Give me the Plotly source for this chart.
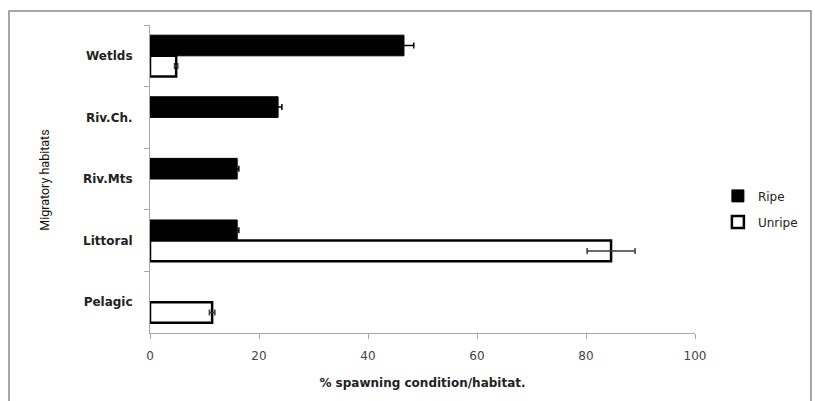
import plotly.graph_objects as go

habitats = ["Wetlds", "Riv.Ch.", "Riv.Mts", "Littoral", "Pelagic"]
ripe = [46.6, 23.5, 16.0, 16.0, 0.0]
ripe_err = [1.8, 0.7, 0.3, 0.3, 0.0]
unripe = [4.8, 0.0, 0.0, 84.6, 11.4]
unripe_err = [0.3, 0.0, 0.0, 4.4, 0.5]
x_ticks = [0, 20, 40, 60, 80, 100]

font_main = "'DejaVu Sans', sans-serif"


def shown(vals):
    return [v if v > 0 else None for v in vals]


def visible_err(vals, errs):
    return [e if v > 0 else None for v, e in zip(vals, errs)]


fig = go.Figure()
fig.add_trace(go.Bar(
    name="Ripe", y=habitats, x=shown(ripe), orientation="h", legendgroup="a",
    marker=dict(color="black", line=dict(color="black", width=1)),
    error_x=dict(type="data", array=visible_err(ripe, ripe_err), color="black",
                 thickness=1.5, width=3),
))
fig.add_trace(go.Bar(
    name="Unripe", y=habitats, x=shown(unripe), orientation="h", legendgroup="b",
    marker=dict(color="white", line=dict(color="black", width=2.5)),
    error_x=dict(type="data", array=visible_err(unripe, unripe_err), color="#3a3a3a",
                 thickness=1.5, width=3),
))

fig.update_layout(
    width=815, height=401,
    margin=dict(l=150, r=120, t=25, b=68, autoexpand=False),
    paper_bgcolor="white", plot_bgcolor="white",
    barmode="group", bargap=0.33, bargroupgap=0,
    font=dict(family=font_main, size=12, color="black"),
    showlegend=True,
    legend=dict(x=1.042, y=0.403, xanchor="left", yanchor="middle",
                font=dict(size=12, color="#222"), tracegroupgap=7,
                traceorder="grouped", itemwidth=30),
    xaxis=dict(range=[0, 100], tickvals=x_ticks, showgrid=False, zeroline=False,
               showline=True, linecolor="#a8a8a8", linewidth=1,
               ticks="outside", ticklen=5, tickcolor="#a8a8a8",
               ticklabelstandoff=7,
               tickfont=dict(size=12, color="#444"),
               title=dict(text="<b>% spawning condition/habitat.</b>",
                          font=dict(size=12, color="#222"), standoff=16)),
    yaxis=dict(autorange="reversed", showgrid=False, zeroline=False,
               showline=True, linecolor="#a8a8a8", linewidth=1,
               ticks="outside", ticklen=5, tickcolor="#a8a8a8",
               tickson="boundaries",
               tickfont=dict(size=12, color="#222", family=font_main),
               ticklabelstandoff=14),
    annotations=[dict(text="Migratory habitats", textangle=-90,
                      xref="paper", yref="paper", x=-0.193, y=0.497,
                      xanchor="center", yanchor="middle",
                      showarrow=False,
                      font=dict(family="'Liberation Sans Narrow', 'Roboto', sans-serif",
                                size=12.5, color="#111"))],
    shapes=[dict(type="rect", xref="paper", yref="paper",
                 x0=-0.2587, x1=1.2128, y0=-0.25, y1=1.0455,
                 line=dict(color="#8a8a8a", width=1.5), fillcolor="rgba(0,0,0,0)")],
)

fig.update_yaxes(tickprefix="<b>", ticksuffix="</b>")

fig.write_html("out.html",
               config={"displayModeBar": False},
               post_script="document.body.style.margin='0px';document.body.style.overflow='hidden';")
